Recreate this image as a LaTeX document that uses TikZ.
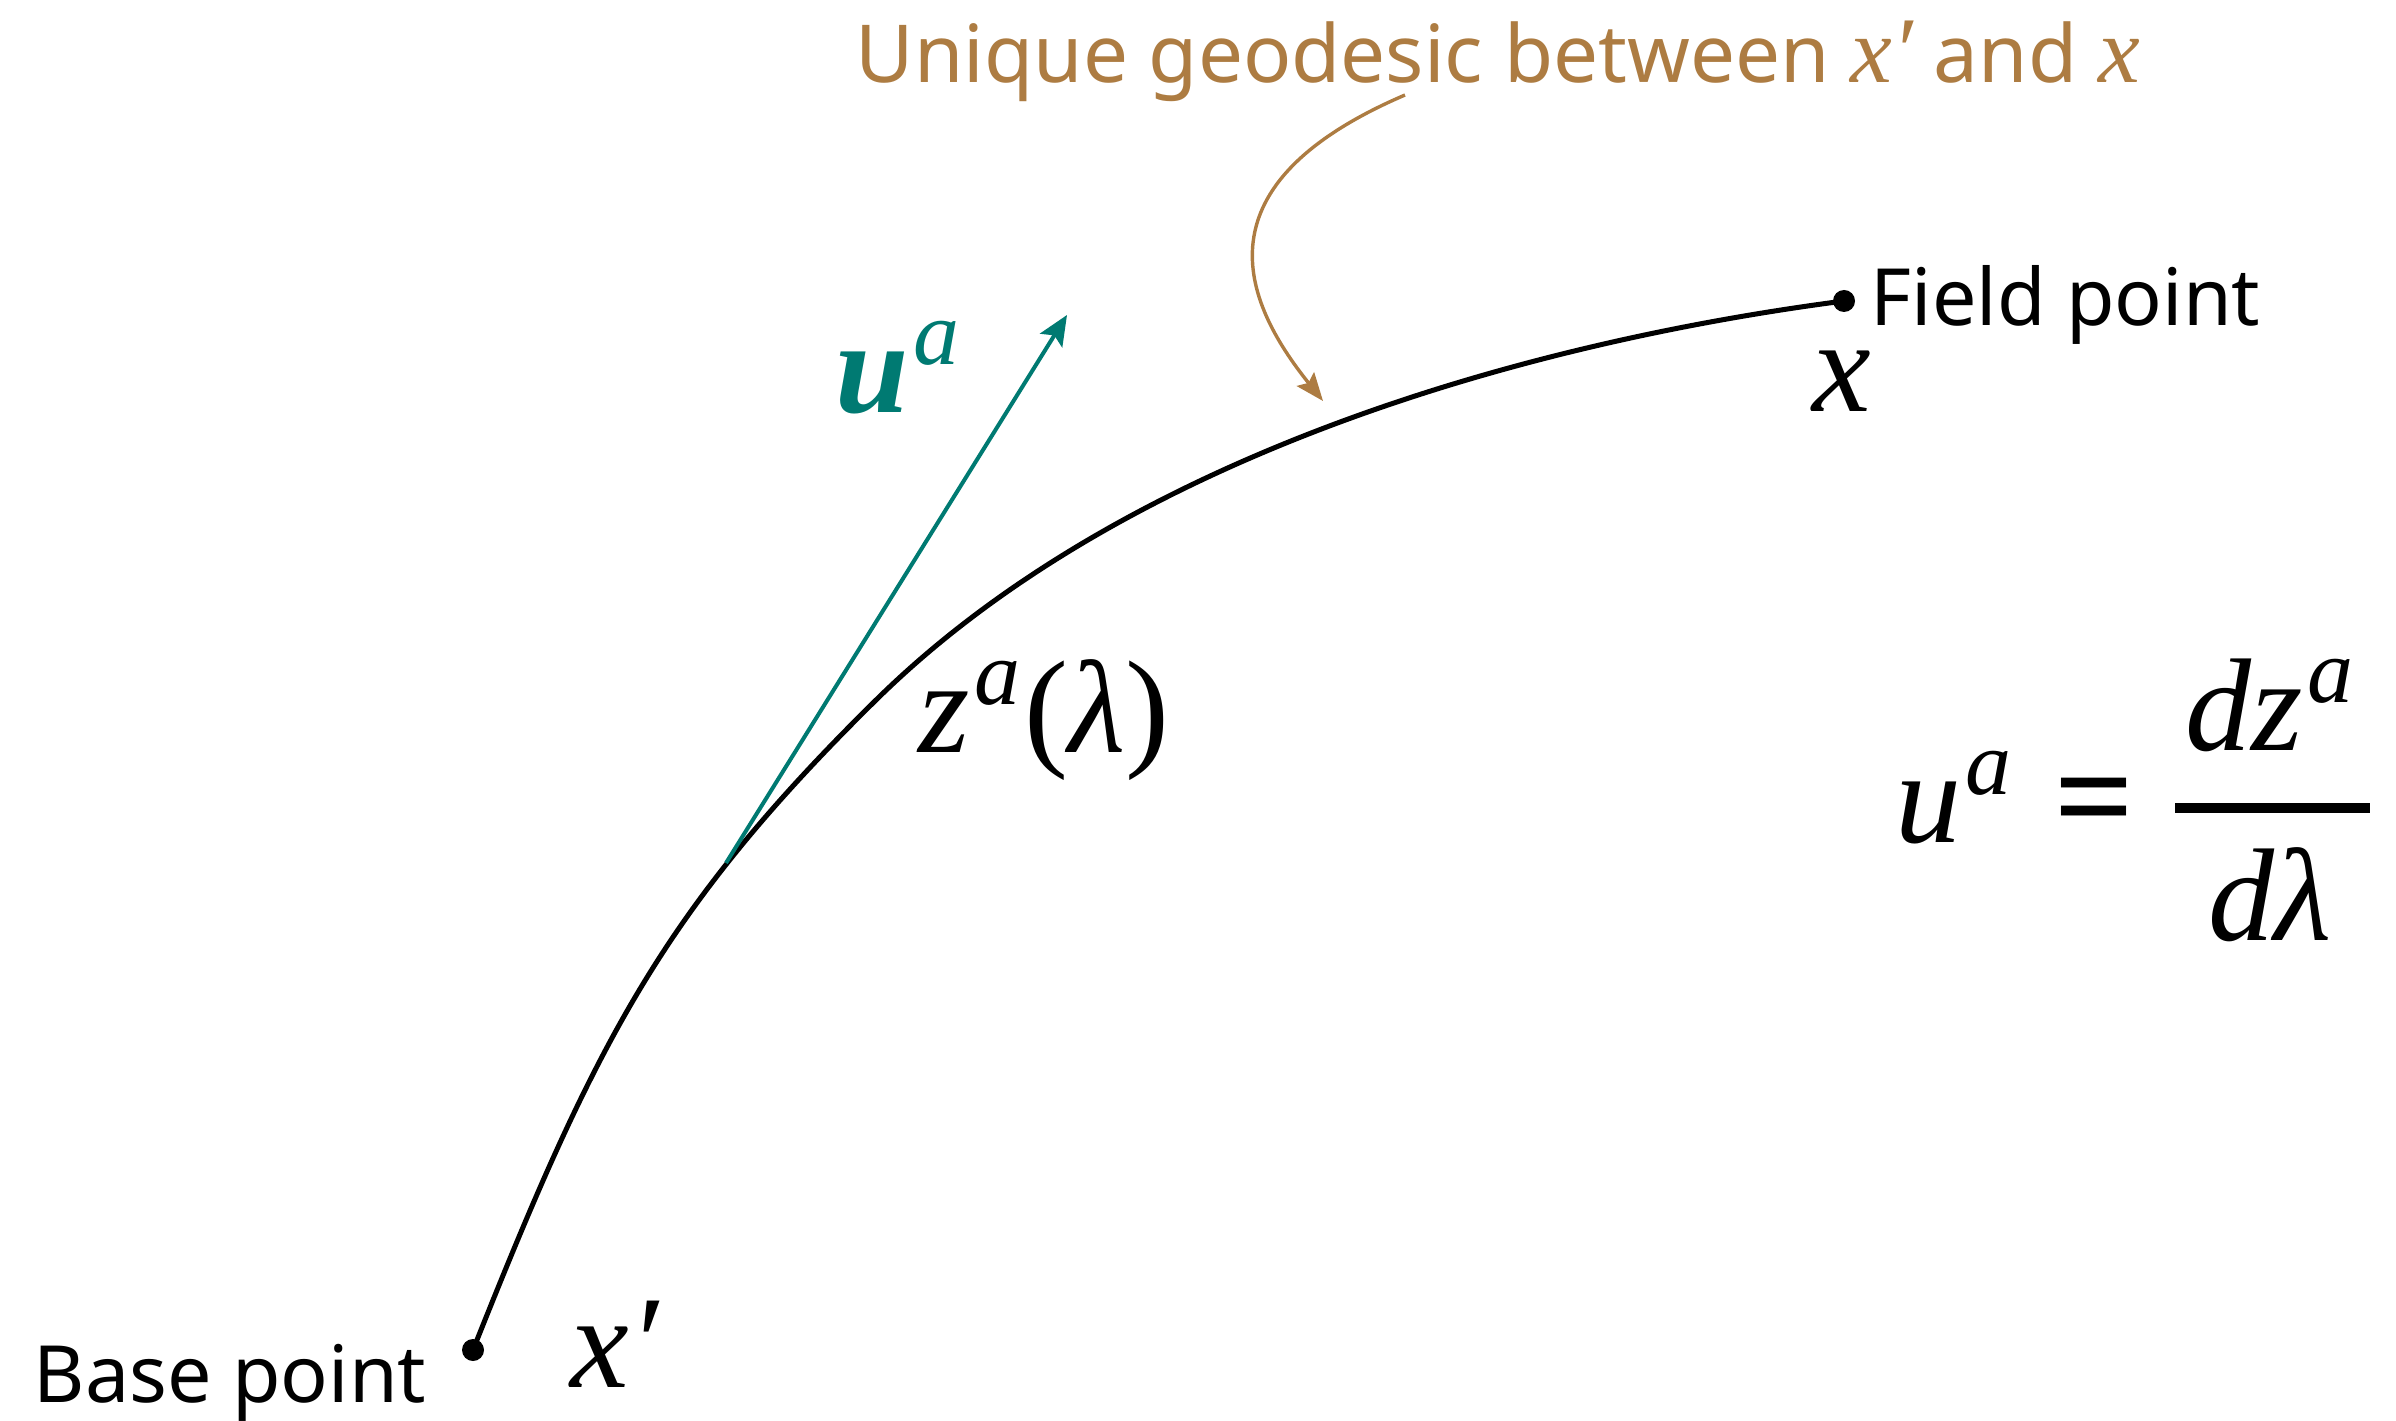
\documentclass[tikz,border=0pt]{standalone}
\usepackage{fontspec}
\setmainfont{Liberation Serif}
\newfontfamily\notosans{Noto Sans}
\newfontfamily\tms{Liberation Serif}
\usetikzlibrary{arrows.meta}
\definecolor{geobrown}{RGB}{173,124,66}
\definecolor{uteal}{RGB}{0,122,114}
\newcommand{\supsz}{\fontsize{23}{25}\selectfont}
\newcommand{\supa}{\raisebox{12pt}{\supsz\itshape a}}
\begin{document}
\begin{tikzpicture}[x=0.25pt,y=-0.25pt,
  sanslbl/.style={inner sep=0pt, font=\notosans\fontsize{19.75}{23}\selectfont},
  titlelbl/.style={inner sep=0pt, text=geobrown, font=\notosans\fontsize{20}{24}\selectfont},
  mathlbl/.style={inner sep=0pt, font=\tms\itshape\fontsize{33}{36}\selectfont},
  dotnode/.style={circle, fill=black, inner sep=0pt, minimum size=5.5pt},
  geoline/.style={line width=1.25pt, black, line cap=round},
  uarrow/.style={line width=1pt, uteal, -{Stealth[length=7.5pt,width=6.5pt,inset=1.5pt]}},
  garrow/.style={line width=0.85pt, geobrown, -{Stealth[length=7pt,width=5.5pt,inset=1.2pt]}}]
\useasboundingbox (0,0) rectangle (2396,1421);

% points
\node[dotnode] (base) at (473,1350) {};
\node[dotnode] (field) at (1844,301) {};

% geodesic
\coordinate (gmid) at (875,701);
\draw[geoline] (base.center) .. controls (595,1043) and (662,911) .. (gmid)
  .. controls (1116,463) and (1507,345) .. (field.center);

% tangent vector
\coordinate (ustart) at (726,863);
\coordinate (utip) at (1067,315);
\draw[uarrow] (ustart) -- (utip);

% title arrow
\coordinate (gstart) at (1405,95);
\coordinate (gtip) at (1323,401);
\draw[garrow] (gstart) .. controls (1195,185) and (1242,300) .. (gtip);

% labels
\node[sanslbl, anchor=base west] (basetxt) at (33,1402) {Base point};
\node[sanslbl, anchor=base west] (fieldtxt) at (1870,326) {Field point};
\node[titlelbl, anchor=base west] (title) at (855,83) {Unique geodesic between {\tms\itshape\fontsize{23.5}{26}\selectfont x′} and {\tms\itshape\fontsize{23.5}{26}\selectfont x}};

\node[mathlbl, anchor=base] (xlbl) at (1842,412) {x};
\node[mathlbl, anchor=base west] (xplbl) at (570,1387) {x′};
\node[mathlbl, anchor=base west, text=uteal] (ulbl) at (835,413) {{\bfseries u}\kern1pt\supa};
\node[mathlbl, anchor=base west] (zlbl) at (918,752) {z\kern1pt\supa\kern1pt{\upshape(}λ{\upshape)}};

% equation
\node[mathlbl, anchor=base west] (equ) at (1895,842) {u\kern1pt\supa};
\node[mathlbl, anchor=base, font=\tms\upshape\bfseries\fontsize{35}{38}\selectfont] (eqsign) at (2094,843) {=};
\node[mathlbl, anchor=base west] (numer) at (2185,750) {dz\kern1pt\supa};
\node[mathlbl, anchor=base west] (denom) at (2208,940) {dλ};
\coordinate (barl) at (2175,808);
\coordinate (barr) at (2370,808);
\draw[line width=2.5pt] (barl) -- (barr);
\end{tikzpicture}
\end{document}
